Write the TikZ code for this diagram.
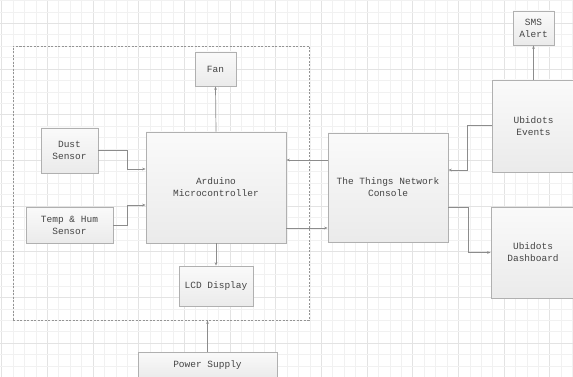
\documentclass[tikz,border=0pt]{standalone}
\usepackage{fontspec}
\setmainfont{Liberation Mono}
\usetikzlibrary{arrows.meta,shadows,calc}
\definecolor{boxline}{HTML}{B0B0B0}
\definecolor{conncol}{HTML}{8C8C8C}
\definecolor{txtcol}{HTML}{444444}
\definecolor{gridminor}{HTML}{F1F1F1}
\definecolor{gridmajor}{HTML}{E3E3E3}
\tikzset{
  blk/.style={draw=boxline, line width=0.8pt, top color=white!98!black, bottom color=black!8,
    inner sep=0pt, align=center, text=txtcol,
    font=\fontsize{9.5}{11.8}\selectfont,
    drop shadow={shadow xshift=0.8pt, shadow yshift=-0.8pt, fill=black, opacity=0.12}},
  conn/.style={draw=conncol, line width=0.7pt, -{Stealth[length=3.5pt,width=2.6pt]}},
  grp/.style={draw=black!42, line width=0.8pt, dash pattern=on 2pt off 1.5pt, inner sep=0pt}
}
\begin{document}
\begin{tikzpicture}[x=1pt,y=-1pt]
\useasboundingbox (0,0) rectangle (573,377);
\fill[white] (0,0) rectangle (573,377);
\begin{scope}
\clip (0,0) rectangle (573,377);
% grid
\foreach \k in {0,...,50}{
  \pgfmathsetmacro{\xx}{1.6+11.42*\k}
  \pgfmathtruncatemacro{\mm}{mod(\k,4)}
  \ifnum\mm=0
    \draw[gridmajor, line width=0.7pt] (\xx,0) -- (\xx,377);
  \else
    \draw[gridminor, line width=0.6pt] (\xx,0) -- (\xx,377);
  \fi
}
\foreach \k in {-2,...,31}{
  \pgfmathsetmacro{\yy}{23.3+11.42*\k}
  \pgfmathtruncatemacro{\mm}{mod(\k+8,4)}
  \ifnum\mm=0
    \draw[gridmajor, line width=0.7pt] (0,\yy) -- (573,\yy);
  \else
    \draw[gridminor, line width=0.6pt] (0,\yy) -- (573,\yy);
  \fi
}

% dashed controller group
\node[grp, minimum width=296pt, minimum height=274pt] (ctrl) at (161,183) {};

% blocks
\node[blk, minimum width=41pt, minimum height=34pt] (fan) at (215.5,69) {Fan};
\node[blk, minimum width=57pt, minimum height=45pt] (dust) at (69.5,150.5) {Dust\\Sensor};
\node[blk, minimum width=140pt, minimum height=111pt] (ard) at (216,187.5) {Arduino\\Microcontroller};
\node[blk, minimum width=87pt, minimum height=36pt] (temp) at (69.5,225) {Temp \& Hum\\Sensor};
\node[blk, minimum width=74pt, minimum height=40pt] (lcd) at (216,286) {LCD Display};
\node[blk, minimum width=139pt, minimum height=26pt] (power) at (207.5,365) {Power Supply};
\node[blk, minimum width=120pt, minimum height=109pt] (ttn) at (388,187.5) {The Things Network\\Console};
\node[blk, minimum width=83pt, minimum height=92pt] (events) at (533.5,126) {Ubidots\\Events};
\node[blk, minimum width=41pt, minimum height=34pt] (sms) at (533.5,28) {SMS\\Alert};
\node[blk, minimum width=84pt, minimum height=91pt] (dash) at (533,252.5) {Ubidots\\Dashboard};

% connectors
\draw[conn] (ard.north) -- (fan.south);
\draw[conn] (dust.east) -- ++(28.5,0) |- ([yshift=18.5pt]ard.west);
\draw[conn] (temp.east) -- ++(14,0) |- ([yshift=-17.5pt]ard.west);
\draw[conn] (ard.south) -- (lcd.north);
\draw[conn] (power.north) -- (power.north |- ctrl.south);
\draw[conn] ([yshift=27.5pt]ttn.west) -- ([yshift=27.5pt]ard.east);
\draw[conn] ([yshift=-40.5pt]ard.east) -- ([yshift=-40.5pt]ttn.west);
\draw[conn] ([yshift=1pt]events.west) -- ++(-24,0) |- ([yshift=17.5pt]ttn.east);
\draw[conn] ([yshift=-19.5pt]ttn.east) -- ++(20,0) |- (dash.west);
\draw[conn] (events.north) -- (sms.south);
\end{scope}
\end{tikzpicture}
\end{document}
